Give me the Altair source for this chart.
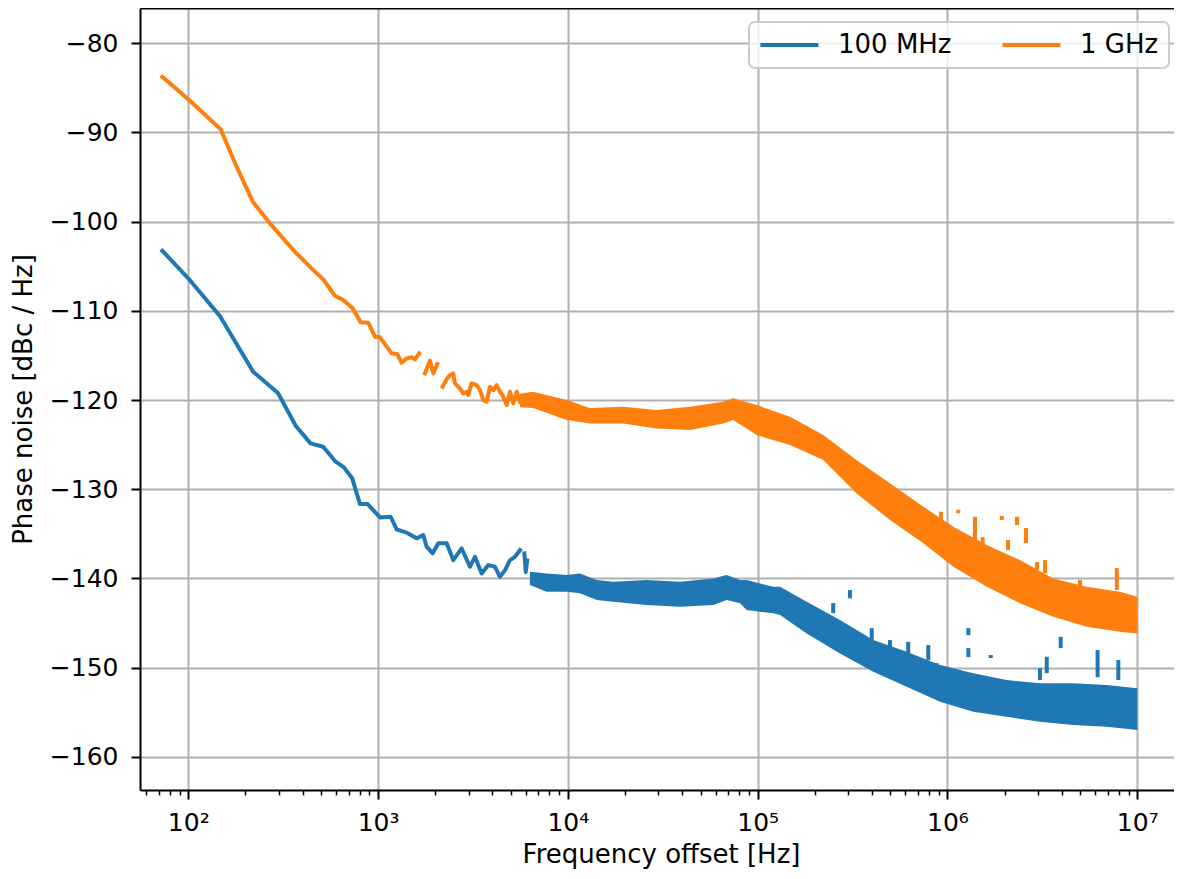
import altair as alt
import pandas as pd

FONT = "DejaVu Sans"
SERIES = ["100 MHz", "1 GHz"]
COLORS = ["#1f77b4", "#ff7f0e"]

# ---------------- 100 MHz (blue) ----------------
blue_seg1_f = [73.0, 100, 146.8, 219.8, 297.7, 369, 441, 514, 593, 661, 731, 803, 881,
               1023, 1165, 1253, 1415, 1597, 1730, 1803, 1940, 2077, 2299, 2490, 2756,
               3048, 3241, 3516, 3810, 4131, 4388, 4667, 4957, 5265, 5596]
blue_seg1_db = [-103.26, -106.35, -110.58, -116.83, -119.25, -122.92, -124.86, -125.24,
                -126.84, -127.55, -128.78, -131.67, -131.67, -133.16, -133.09, -134.5,
                -134.88, -135.51, -135.14, -136.45, -137.19, -136.07, -136.07, -137.95,
                -136.63, -138.70, -137.58, -139.44, -138.51, -138.70, -139.82, -139.07,
                -137.95, -137.58, -136.83]
blue_seg2_f = [5900, 6000, 6100]
blue_seg2_db = [-137.2, -139.3, -138.0]

blue_band_f = [6310, 7725, 9860, 11580, 14190, 17350, 26000, 38960, 58350, 68700, 80700,
               87500, 120800, 131200, 181200, 271500, 406500, 609600, 913400, 1368000,
               2050000, 3071000, 4600000, 6901000, 10000000]
blue_band_hi = [-139.26, -139.44, -139.63, -139.44, -140.19, -140.38, -140.19, -140.38,
                -140.0, -139.63, -140.19, -140.19, -140.94, -140.94, -142.62, -144.67,
                -146.92, -148.23, -149.72, -150.65, -151.40, -151.77, -151.77, -151.96,
                -152.33]
blue_band_lo = [-140.75, -141.5, -141.5, -141.68, -142.43, -142.62, -142.99, -143.18,
                -142.99, -142.43, -142.80, -143.55, -143.92, -144.11, -146.17, -148.41,
                -150.47, -152.16, -153.84, -154.96, -155.52, -156.08, -156.45, -156.64,
                -157.01]

blue_spur_f = [250000, 306200, 399000, 497800, 621000, 792000, 877000, 1288000, 1288000,
               1690000, 3070000, 3334000, 3948000, 6180000, 7943000]
blue_spur_hi = [-142.77, -141.31, -145.58, -146.92, -147.11, -147.48, -149.50, -145.58,
                -147.82, -148.60, -150.06, -148.79, -146.55, -148.04, -149.16]
blue_spur_lo = [-143.89, -142.24, -146.92, -148.04, -148.37, -149.16, -150.29, -146.37,
                -148.83, -148.94, -151.40, -150.62, -147.82, -151.07, -151.40]

# ---------------- 1 GHz (orange) ----------------
orange_seg1_f = [73.0, 100, 148.2, 179.9, 219.8, 269.2, 364.5, 437.5, 514.3, 592.6, 655.7,
                 735, 809.5, 887.4, 963, 1023, 1180, 1263, 1331, 1415, 1504, 1565, 1648]
orange_seg1_db = [-83.75, -86.28, -89.64, -93.84, -97.83, -100.19, -103.37, -105.05,
                  -106.47, -108.31, -108.79, -109.72, -111.29, -111.33, -112.90, -112.97,
                  -114.77, -114.84, -115.82, -115.33, -115.21, -115.44, -114.77]
orange_seg2_f = [1766, 1876, 1954, 2052]
orange_seg2_db = [-117.01, -115.60, -117.01, -115.97]
orange_seg3_f = [2188, 2297, 2392, 2491, 2541, 2701, 2811, 2931, 2988, 3110, 3310, 3446,
                 3584, 3732, 3888, 4049, 4216, 4391, 4572, 4761, 4957, 5162, 5375, 5596]
orange_seg3_db = [-118.51, -117.68, -117.20, -117.01, -118.13, -118.69, -119.25, -119.07,
                  -119.44, -118.13, -118.32, -118.88, -120.00, -120.19, -118.51, -118.88,
                  -118.32, -119.07, -119.63, -120.56, -119.07, -120.37, -119.07, -120.19]

orange_band_f = [5596, 6546, 9860, 13060, 19580, 29350, 43980, 65870, 74350, 98800, 147900,
                 221800, 332500, 497800, 746400, 1074000, 1611000, 2410000, 3608000,
                 5408000, 8091000, 10000000]
orange_band_hi = [-119.3, -119.07, -120.0, -120.90, -120.75, -121.12, -120.75, -120.19,
                  -119.81, -120.56, -121.87, -123.93, -126.74, -129.34, -131.97, -134.21,
                  -136.26, -137.95, -140.00, -140.94, -141.50, -142.06]
orange_band_lo = [-120.8, -120.90, -122.24, -122.62, -122.62, -123.18, -123.37, -122.62,
                  -122.24, -123.93, -125.05, -126.73, -130.47, -133.46, -136.07, -138.70,
                  -140.94, -142.80, -144.30, -145.43, -145.99, -146.17]

orange_spur_f = [924800, 1140000, 1396000, 1531000, 1933000, 2084000, 2324000, 2592000,
                 2965000, 3266000, 4991000, 7798000]
orange_spur_hi = [-132.53, -132.3, -133.09, -135.37, -133.01, -135.70, -133.09, -134.36,
                  -138.17, -137.95, -140.19, -138.84]
orange_spur_lo = [-133.80, -132.7, -136.04, -136.49, -133.46, -136.82, -134.02, -136.04,
                  -139.07, -139.41, -141.31, -141.31]

# axis ticks
x_major_ticks = [1e2, 1e3, 1e4, 1e5, 1e6, 1e7]
x_minor_ticks = [60, 70, 80, 90] + [k * 10 ** e for e in range(2, 7) for k in range(2, 10)]
y_ticks = [-160, -150, -140, -130, -120, -110, -100, -90, -80]

# ---------------- tables ----------------
line_rows = []
for name, segs in [
    (SERIES[0], [(blue_seg1_f, blue_seg1_db), (blue_seg2_f, blue_seg2_db)]),
    (SERIES[1], [(orange_seg1_f, orange_seg1_db), (orange_seg2_f, orange_seg2_db),
                 (orange_seg3_f, orange_seg3_db)]),
]:
    for i, (fs, ds) in enumerate(segs):
        for f, d in zip(fs, ds):
            line_rows.append({"series": name, "seg": f"{name}-{i}", "f": f, "db": d})
lines_df = pd.DataFrame(line_rows)

band_rows = []
for name, fs, his, los in [(SERIES[0], blue_band_f, blue_band_hi, blue_band_lo),
                           (SERIES[1], orange_band_f, orange_band_hi, orange_band_lo)]:
    for f, h, l in zip(fs, his, los):
        band_rows.append({"series": name, "f": f, "hi": h, "lo": l})
band_df = pd.DataFrame(band_rows)

spur_rows = []
for name, fs, his, los in [(SERIES[0], blue_spur_f, blue_spur_hi, blue_spur_lo),
                           (SERIES[1], orange_spur_f, orange_spur_hi, orange_spur_lo)]:
    for f, h, l in zip(fs, his, los):
        spur_rows.append({"series": name, "f": f, "hi": h, "lo": l})
spur_df = pd.DataFrame(spur_rows)

# ---------------- scales & axes ----------------
xscale = alt.Scale(type="log", domain=[55.7, 1.561e7], nice=False)
yscale = alt.Scale(domain=[-163.73, -76.04], nice=False, zero=False)
cscale = alt.Scale(domain=SERIES, range=COLORS)

y_axis = alt.Axis(values=y_ticks, format="d", title="Phase noise [dBc / Hz]",
                  grid=True, gridColor="#b0b0b0", gridWidth=2,
                  domainColor="black", domainWidth=2, tickColor="black", tickWidth=2,
                  tickSize=9, labelFontSize=25, labelFont=FONT, labelColor="black",
                  labelPadding=13, titleFontSize=26, titleFont=FONT,
                  titleFontWeight="normal", titleColor="black", titlePadding=13)

sup = "['⁰','¹','²','³','⁴','⁵','⁶','⁷','⁸','⁹']"
x_major = alt.Axis(values=x_major_ticks, orient="bottom",
                   labelExpr="'10' + " + sup + "[round(log(datum.value)/LN10)]",
                   grid=True, gridColor="#b0b0b0", gridWidth=2,
                   domainColor="black", domainWidth=2, tickColor="black", tickWidth=2,
                   tickSize=9, labelFontSize=25, labelFont=FONT, labelColor="black",
                   labelPadding=11, labelFlush=False, labelOverlap=False,
                   title="Frequency offset [Hz]", titleFontSize=26, titleFont=FONT,
                   titleFontWeight="normal", titleColor="black", titlePadding=6,
                   titleX=521)
x_minor = alt.Axis(values=x_minor_ticks, orient="bottom", labels=False, grid=False,
                   domain=False, tickColor="black", tickWidth=1.5, tickSize=5, title=None)
x_top = alt.Axis(orient="top", labels=False, ticks=False, grid=False, domain=True,
                 domainColor="black", domainWidth=2, title=None)

legend = alt.Legend(title=None, orient="none", legendX=609, legendY=14,
                    direction="horizontal", symbolType="M-1.2,0L4.8,0",
                    symbolSize=374, symbolStrokeWidth=4,
                    labelFontSize=26, labelFont=FONT, labelColor="black",
                    labelOffset=53, columnPadding=42, padding=10,
                    strokeColor="#cccccc", fillColor="rgba(255,255,255,0.8)",
                    cornerRadius=6)

color = alt.Color("series:N", scale=cscale, sort=SERIES, legend=legend)

band = alt.Chart(band_df).mark_area(opacity=1).encode(
    x=alt.X("f:Q", scale=xscale, axis=x_major),
    y=alt.Y("hi:Q", scale=yscale, axis=y_axis),
    y2="lo:Q",
    color=color,
)

lines = alt.Chart(lines_df).mark_line(strokeWidth=4, strokeJoin="round",
                                      strokeCap="square").encode(
    x=alt.X("f:Q", scale=xscale, axis=x_minor),
    y=alt.Y("db:Q", scale=yscale, axis=y_axis),
    detail="seg:N",
    color=color,
)

spurs = alt.Chart(spur_df).mark_rule(strokeWidth=4, strokeCap="butt").encode(
    x=alt.X("f:Q", scale=xscale, axis=x_top),
    y=alt.Y("hi:Q", scale=yscale, axis=y_axis),
    y2="lo:Q",
    color=color,
)

chart = alt.layer(band, lines, spurs).resolve_axis(x="independent").properties(
    width=1034, height=782,
    autosize=alt.AutoSizeParams(type="none"),
    padding={"left": 132, "top": 0, "right": 0, "bottom": 80},
).configure_view(stroke=None).configure_legend(strokeWidth=2)

chart.save("out.html", embed_options={"renderer": "svg", "actions": False})
